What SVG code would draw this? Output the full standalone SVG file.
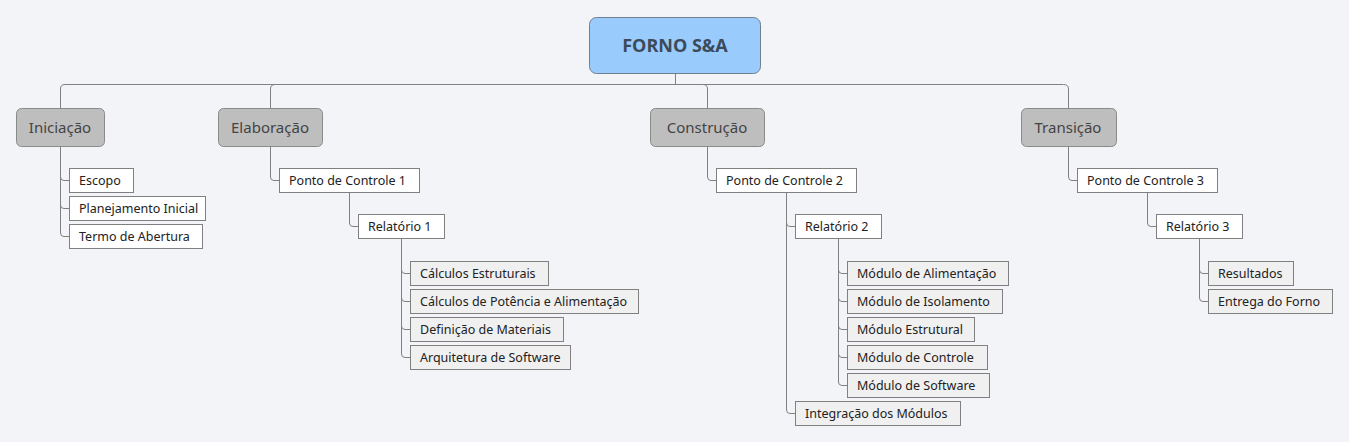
<svg xmlns="http://www.w3.org/2000/svg" width="1349" height="442" viewBox="0 0 1349 442">
<style>
.bg{fill:#f3f4f8}
.root{fill:#99ccfd;stroke:#6f7f8f;stroke-width:1}
.rt{font-family:"Open Sans","Noto Sans",sans-serif;font-weight:bold;font-size:18px;fill:#3c4a5a;text-anchor:middle}
.br{fill:#bebebe;stroke:#8a8a8a;stroke-width:1}
.bt{font-family:"Noto Sans","Open Sans",sans-serif;font-size:15px;fill:#444;text-anchor:middle}
.lf{fill:#ffffff;stroke:#808080;stroke-width:1}
.lg{fill:#f0f0f0;stroke:#808080;stroke-width:1}
.lt{font-family:"Noto Sans","Open Sans",sans-serif;font-size:12.5px;fill:#222}
.c{fill:none;stroke:#808080;stroke-width:1}
</style>
<rect class="bg" x="0" y="0" width="1349" height="442"/>
<g id="connectors">
<path class="c" d="M60.5,108 V89 Q60.5,84.5 65,84.5 H1063.5 Q1068.5,84.5 1068.5,89 V108"/>
<path class="c" d="M675.5,74 V84.5"/>
<path class="c" d="M270.5,108 V89 Q270.5,84.5 275,84.5"/>
<path class="c" d="M707.5,108 V89 Q707.5,84.5 703,84.5"/>
<path class="c" d="M60.5,146 V177 Q60.5,180.5 64,180.5 H69"/>
<path class="c" d="M60.5,146 V205 Q60.5,208.5 64,208.5 H69"/>
<path class="c" d="M60.5,146 V233 Q60.5,236.5 64,236.5 H69"/>
<path class="c" d="M270.5,146 V177 Q270.5,180.5 274,180.5 H279"/>
<path class="c" d="M349.5,192 V223 Q349.5,226.5 353,226.5 H358"/>
<path class="c" d="M401.5,238 V270 Q401.5,273.5 405,273.5 H410"/>
<path class="c" d="M401.5,238 V298 Q401.5,301.5 405,301.5 H410"/>
<path class="c" d="M401.5,238 V326 Q401.5,329.5 405,329.5 H410"/>
<path class="c" d="M401.5,238 V354 Q401.5,357.5 405,357.5 H410"/>
<path class="c" d="M707.5,146 V177 Q707.5,180.5 711,180.5 H716"/>
<path class="c" d="M786.5,192 V223 Q786.5,226.5 790,226.5 H795"/>
<path class="c" d="M786.5,192 V410 Q786.5,413.5 790,413.5 H795"/>
<path class="c" d="M838.5,238 V270 Q838.5,273.5 842,273.5 H847"/>
<path class="c" d="M838.5,238 V298 Q838.5,301.5 842,301.5 H847"/>
<path class="c" d="M838.5,238 V326 Q838.5,329.5 842,329.5 H847"/>
<path class="c" d="M838.5,238 V354 Q838.5,357.5 842,357.5 H847"/>
<path class="c" d="M838.5,238 V382 Q838.5,385.5 842,385.5 H847"/>
<path class="c" d="M1068.5,146 V177 Q1068.5,180.5 1072,180.5 H1077"/>
<path class="c" d="M1147.5,192 V223 Q1147.5,226.5 1151,226.5 H1156"/>
<path class="c" d="M1199.5,238 V270 Q1199.5,273.5 1203,273.5 H1208"/>
<path class="c" d="M1199.5,238 V298 Q1199.5,301.5 1203,301.5 H1208"/>
</g>
<g id="root"><rect class="root" x="589.5" y="17.5" width="171" height="56" rx="7"/><text class="rt" x="675" y="52">FORNO S&amp;A</text></g>
<g id="iniciacao"><rect class="br" x="16.5" y="108.5" width="88" height="38" rx="5"/><text class="bt" x="60" y="133">Iniciação</text></g>
<g id="elaboracao"><rect class="br" x="218.5" y="108.5" width="104" height="38" rx="5"/><text class="bt" x="270" y="133">Elaboração</text></g>
<g id="construcao"><rect class="br" x="650.5" y="108.5" width="114" height="38" rx="5"/><text class="bt" x="707" y="133">Construção</text></g>
<g id="transicao"><rect class="br" x="1021.5" y="108.5" width="95" height="38" rx="5"/><text class="bt" x="1068" y="133">Transição</text></g>
<g id="escopo"><rect class="lf" x="69.5" y="168.5" width="64" height="24"/><text class="lt" x="79" y="185">Escopo</text></g>
<g id="planejamento"><rect class="lf" x="69.5" y="196.5" width="136" height="24"/><text class="lt" x="79" y="213">Planejamento Inicial</text></g>
<g id="termo"><rect class="lf" x="69.5" y="224.5" width="133" height="24"/><text class="lt" x="79" y="241">Termo de Abertura</text></g>
<g id="pc1"><rect class="lf" x="279.5" y="168.5" width="140" height="24"/><text class="lt" x="289" y="185">Ponto de Controle 1</text></g>
<g id="rel1"><rect class="lf" x="358.5" y="214.5" width="86" height="24"/><text class="lt" x="368" y="231">Relatório 1</text></g>
<g id="calc-estr"><rect class="lg" x="410.5" y="261.5" width="138" height="24"/><text class="lt" x="420" y="278">Cálculos Estruturais</text></g>
<g id="calc-pot"><rect class="lg" x="410.5" y="289.5" width="228" height="24"/><text class="lt" x="420" y="306">Cálculos de Potência e Alimentação</text></g>
<g id="def-mat"><rect class="lg" x="410.5" y="317.5" width="153" height="24"/><text class="lt" x="420" y="334">Definição de Materiais</text></g>
<g id="arq-soft"><rect class="lg" x="410.5" y="345.5" width="160" height="24"/><text class="lt" x="420" y="362">Arquitetura de Software</text></g>
<g id="pc2"><rect class="lf" x="716.5" y="168.5" width="140" height="24"/><text class="lt" x="726" y="185">Ponto de Controle 2</text></g>
<g id="rel2"><rect class="lf" x="795.5" y="214.5" width="86" height="24"/><text class="lt" x="805" y="231">Relatório 2</text></g>
<g id="mod-alim"><rect class="lg" x="847.5" y="261.5" width="161" height="24"/><text class="lt" x="857" y="278">Módulo de Alimentação</text></g>
<g id="mod-iso"><rect class="lg" x="847.5" y="289.5" width="155" height="24"/><text class="lt" x="857" y="306">Módulo de Isolamento</text></g>
<g id="mod-estr"><rect class="lg" x="847.5" y="317.5" width="127" height="24"/><text class="lt" x="857" y="334">Módulo Estrutural</text></g>
<g id="mod-ctrl"><rect class="lg" x="847.5" y="345.5" width="140" height="24"/><text class="lt" x="857" y="362">Módulo de Controle</text></g>
<g id="mod-soft"><rect class="lg" x="847.5" y="373.5" width="142" height="24"/><text class="lt" x="857" y="390">Módulo de Software</text></g>
<g id="integracao"><rect class="lg" x="795.5" y="401.5" width="165" height="24"/><text class="lt" x="805" y="418">Integração dos Módulos</text></g>
<g id="pc3"><rect class="lf" x="1077.5" y="168.5" width="140" height="24"/><text class="lt" x="1087" y="185">Ponto de Controle 3</text></g>
<g id="rel3"><rect class="lf" x="1156.5" y="214.5" width="86" height="24"/><text class="lt" x="1166" y="231">Relatório 3</text></g>
<g id="resultados"><rect class="lg" x="1208.5" y="261.5" width="85" height="24"/><text class="lt" x="1218" y="278">Resultados</text></g>
<g id="entrega"><rect class="lg" x="1208.5" y="289.5" width="124" height="24"/><text class="lt" x="1218" y="306">Entrega do Forno</text></g>
</svg>
